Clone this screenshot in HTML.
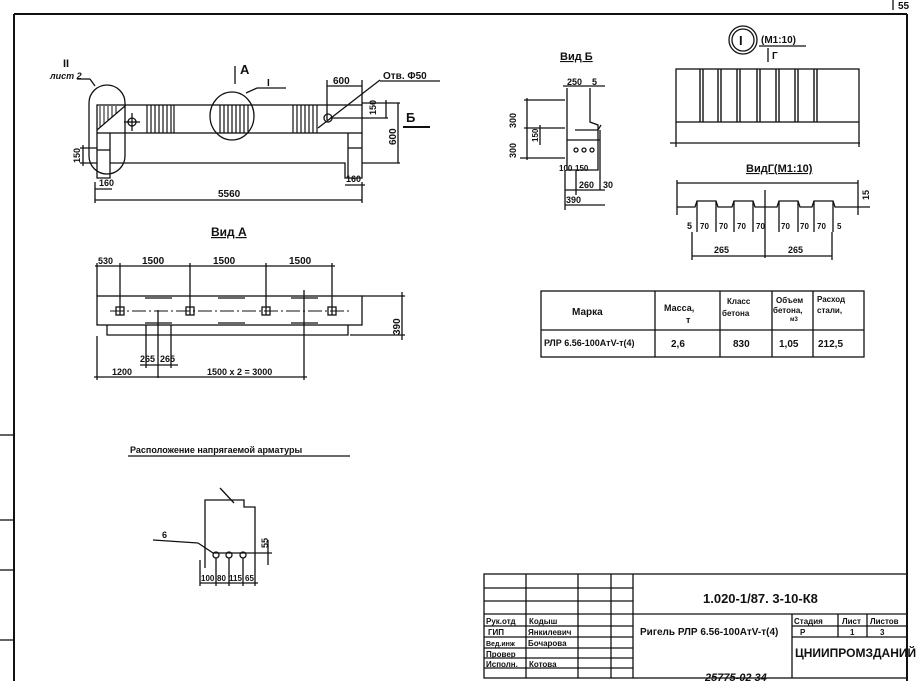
<!DOCTYPE html>
<html><head><meta charset="utf-8"><style>
html,body{margin:0;padding:0;background:#fff;}
svg{display:block}
text{font-family:"Liberation Sans","DejaVu Sans",sans-serif;fill:#111;font-weight:bold}
</style></head><body>
<svg width="917" height="681" viewBox="0 0 917 681" xmlns="http://www.w3.org/2000/svg">
<g stroke="#111" fill="none" stroke-width="1.3">
<!-- frame -->
<line x1="14" y1="14" x2="907" y2="14" stroke-width="2"/>
<line x1="14" y1="14" x2="14" y2="681" stroke-width="2"/>
<line x1="907" y1="14" x2="907" y2="681" stroke-width="2"/>
<line x1="893" y1="0" x2="893" y2="10"/>
<line x1="0" y1="435" x2="14" y2="435"/><line x1="0" y1="520" x2="14" y2="520"/><line x1="0" y1="570" x2="14" y2="570"/><line x1="0" y1="640" x2="14" y2="640"/>
<!-- main beam -->
<rect x="97" y="105" width="265" height="28"/>
<polyline points="97,133 97,178 110,178 110,163 345,163 345,178 362,178 362,133"/>
<line x1="110" y1="133" x2="110" y2="163"/>
<line x1="348" y1="133" x2="348" y2="178"/>
<line x1="97" y1="150" x2="110" y2="150"/><line x1="348" y1="148" x2="362" y2="148"/>
<line x1="97" y1="130" x2="125" y2="106"/>
<g stroke-width="1"><line x1="100" y1="106" x2="100" y2="128"/><line x1="104" y1="106" x2="104" y2="124"/><line x1="108" y1="106" x2="108" y2="120"/><line x1="112" y1="106" x2="112" y2="117"/><line x1="116" y1="106" x2="116" y2="113"/></g>
<g stroke-width="1.2">
<line x1="147" y1="105" x2="147" y2="133"/><line x1="151" y1="105" x2="151" y2="133"/><line x1="155" y1="105" x2="155" y2="133"/><line x1="159" y1="105" x2="159" y2="133"/><line x1="163" y1="105" x2="163" y2="133"/><line x1="167" y1="105" x2="167" y2="133"/><line x1="171" y1="105" x2="171" y2="133"/><line x1="174" y1="105" x2="174" y2="133"/>
<line x1="220" y1="105" x2="220" y2="133"/><line x1="224" y1="105" x2="224" y2="133"/><line x1="228" y1="105" x2="228" y2="133"/><line x1="232" y1="105" x2="232" y2="133"/><line x1="236" y1="105" x2="236" y2="133"/><line x1="240" y1="105" x2="240" y2="133"/><line x1="244" y1="105" x2="244" y2="133"/><line x1="248" y1="105" x2="248" y2="133"/>
<line x1="293" y1="105" x2="293" y2="133"/><line x1="297" y1="105" x2="297" y2="133"/><line x1="301" y1="105" x2="301" y2="133"/><line x1="305" y1="105" x2="305" y2="133"/><line x1="309" y1="105" x2="309" y2="133"/><line x1="313" y1="105" x2="313" y2="133"/><line x1="317" y1="105" x2="317" y2="133"/>
</g>
<ellipse cx="232" cy="116" rx="22" ry="24"/>
<rect x="89" y="85" width="36" height="89" rx="18"/>
<circle cx="132" cy="122" r="4"/><line x1="132" y1="113" x2="132" y2="131"/><line x1="124" y1="122" x2="140" y2="122"/>
<circle cx="328" cy="118" r="4"/>
<line x1="318" y1="128" x2="380" y2="80"/><line x1="380" y1="81" x2="440" y2="81"/>
<line x1="246" y1="93" x2="257" y2="88"/><line x1="257" y1="88" x2="286" y2="88"/>
<line x1="77" y1="79" x2="90" y2="79"/><line x1="90" y1="79" x2="95" y2="86"/>
<line x1="235" y1="66" x2="235" y2="84"/>
<line x1="327" y1="86" x2="362" y2="86"/><line x1="327" y1="80" x2="327" y2="120"/><line x1="362" y1="80" x2="362" y2="105"/>
<line x1="362" y1="103" x2="400" y2="103"/><line x1="398" y1="103" x2="398" y2="163"/><line x1="362" y1="163" x2="400" y2="163"/>
<line x1="386" y1="100" x2="386" y2="118"/><line x1="330" y1="118" x2="388" y2="118"/>
<line x1="403" y1="127" x2="430" y2="127" stroke-width="2"/>
<line x1="95" y1="200" x2="362" y2="200"/><line x1="95" y1="182" x2="95" y2="203"/><line x1="362" y1="182" x2="362" y2="203"/>
<line x1="95" y1="189" x2="112" y2="189"/><line x1="345" y1="185" x2="365" y2="185"/>
<line x1="80" y1="148" x2="97" y2="148"/><line x1="80" y1="163" x2="97" y2="163"/><line x1="83" y1="145" x2="83" y2="166"/>
<!-- Vid A -->
<rect x="97" y="296" width="265" height="29"/>
<polyline points="107,325 107,335 348,335 348,325"/>
<line x1="95" y1="266" x2="335" y2="266"/>
<line x1="120" y1="263" x2="120" y2="315"/><line x1="190" y1="263" x2="190" y2="315"/><line x1="266" y1="263" x2="266" y2="315"/><line x1="332" y1="263" x2="332" y2="315"/>
<line x1="97" y1="263" x2="97" y2="296"/>
<line x1="110" y1="311" x2="350" y2="311" stroke-dasharray="14,3,2,3" stroke-width="1"/>
<rect x="116" y="307" width="8" height="8"/><rect x="186" y="307" width="8" height="8"/><rect x="262" y="307" width="8" height="8"/><rect x="328" y="307" width="8" height="8"/>
<line x1="145" y1="298" x2="172" y2="298"/><line x1="218" y1="298" x2="245" y2="298"/><line x1="291" y1="298" x2="318" y2="298"/>
<line x1="145" y1="323" x2="172" y2="323"/><line x1="218" y1="323" x2="245" y2="323"/><line x1="291" y1="323" x2="318" y2="323"/>
<line x1="362" y1="296" x2="405" y2="296"/><line x1="350" y1="335" x2="405" y2="335"/><line x1="402" y1="292" x2="402" y2="340"/>
<line x1="146" y1="325" x2="146" y2="368"/><line x1="158" y1="310" x2="158" y2="378"/><line x1="171" y1="325" x2="171" y2="368"/>
<line x1="140" y1="365" x2="178" y2="365"/>
<line x1="97" y1="336" x2="97" y2="380"/><line x1="304" y1="290" x2="304" y2="380"/>
<line x1="94" y1="377" x2="307" y2="377"/>
<line x1="128" y1="456" x2="350" y2="456"/>
<!-- bottom sketch -->
<polyline points="205,510 205,500 244,500 244,507 255,507 255,570"/>
<line x1="205" y1="510" x2="205" y2="568"/>
<line x1="220" y1="488" x2="234" y2="503"/>
<line x1="153" y1="540" x2="198" y2="543"/><line x1="198" y1="543" x2="213" y2="553"/><line x1="213" y1="553" x2="255" y2="553"/>
<circle cx="216" cy="555" r="3"/><circle cx="229" cy="555" r="3"/><circle cx="243" cy="555" r="3"/>
<line x1="200" y1="583" x2="258" y2="583"/>
<line x1="200" y1="560" x2="200" y2="586"/><line x1="216" y1="558" x2="216" y2="586"/><line x1="229" y1="558" x2="229" y2="586"/><line x1="243" y1="558" x2="243" y2="586"/><line x1="255" y1="570" x2="255" y2="586"/>
<line x1="268" y1="540" x2="268" y2="565"/><line x1="255" y1="553" x2="272" y2="553"/>
<!-- Vid B -->
<polyline points="567,88 567,170 598,170 598,125 590,122 590,88"/>
<polyline points="575,130 598,130 601,125"/>
<line x1="567" y1="140" x2="600" y2="140"/><line x1="600" y1="130" x2="600" y2="190"/>
<circle cx="576" cy="150" r="2"/><circle cx="584" cy="150" r="2"/><circle cx="592" cy="150" r="2"/>
<line x1="524" y1="100" x2="565" y2="100"/><line x1="524" y1="128" x2="565" y2="128"/><line x1="520" y1="158" x2="565" y2="158"/>
<line x1="527" y1="98" x2="527" y2="160"/><line x1="540" y1="125" x2="540" y2="145"/>
<line x1="563" y1="86" x2="605" y2="86"/>
<line x1="565" y1="190" x2="605" y2="190"/><line x1="565" y1="205" x2="605" y2="205"/>
<line x1="565" y1="170" x2="565" y2="210"/><line x1="576" y1="170" x2="576" y2="195"/>
<!-- detail I -->
<circle cx="743" cy="40" r="14"/><circle cx="743" cy="40" r="11"/>
<line x1="759" y1="46" x2="806" y2="46"/><line x1="768" y1="48" x2="768" y2="62"/>
<rect x="676" y="69" width="183" height="53"/>
<g stroke-width="1.4"><line x1="700" y1="69" x2="700" y2="122"/><line x1="703" y1="69" x2="703" y2="122"/><line x1="718" y1="69" x2="718" y2="122"/><line x1="721" y1="69" x2="721" y2="122"/><line x1="737" y1="69" x2="737" y2="122"/><line x1="740" y1="69" x2="740" y2="122"/><line x1="757" y1="69" x2="757" y2="122"/><line x1="760" y1="69" x2="760" y2="122"/><line x1="776" y1="69" x2="776" y2="122"/><line x1="779" y1="69" x2="779" y2="122"/><line x1="795" y1="69" x2="795" y2="122"/><line x1="798" y1="69" x2="798" y2="122"/><line x1="814" y1="69" x2="814" y2="122"/><line x1="817" y1="69" x2="817" y2="122"/></g>
<line x1="670" y1="143" x2="860" y2="143"/><line x1="676" y1="122" x2="676" y2="147"/><line x1="859" y1="122" x2="859" y2="147"/>
<!-- vid G -->
<line x1="677" y1="183" x2="858" y2="183"/><line x1="677" y1="180" x2="677" y2="215"/><line x1="858" y1="180" x2="858" y2="215"/>
<polyline points="677,207 695,207 697,201 716,201 718,207 732,207 734,201 753,201 755,207 777,207 779,201 798,201 800,207 812,207 814,201 833,201 835,207 858,207 870,207"/>
<line x1="697" y1="201" x2="697" y2="232"/><line x1="716" y1="201" x2="716" y2="232"/><line x1="734" y1="201" x2="734" y2="232"/><line x1="753" y1="201" x2="753" y2="232"/><line x1="779" y1="201" x2="779" y2="232"/><line x1="798" y1="201" x2="798" y2="232"/><line x1="814" y1="201" x2="814" y2="232"/><line x1="833" y1="201" x2="833" y2="232"/>
<line x1="765" y1="190" x2="765" y2="258"/>
<line x1="692" y1="256" x2="832" y2="256"/><line x1="692" y1="232" x2="692" y2="260"/><line x1="832" y1="232" x2="832" y2="260"/>
<!-- table -->
<rect x="541" y="291" width="323" height="66"/>
<line x1="541" y1="330" x2="864" y2="330"/>
<line x1="655" y1="291" x2="655" y2="357"/><line x1="720" y1="291" x2="720" y2="357"/><line x1="772" y1="291" x2="772" y2="357"/><line x1="813" y1="291" x2="813" y2="357"/>
<!-- title block -->
<rect x="484" y="574" width="423" height="104"/>
<line x1="633" y1="574" x2="633" y2="678"/>
<line x1="526" y1="574" x2="526" y2="678"/><line x1="578" y1="574" x2="578" y2="678"/><line x1="611" y1="574" x2="611" y2="678"/>
<line x1="484" y1="588" x2="633" y2="588"/><line x1="484" y1="601" x2="633" y2="601"/>
<line x1="484" y1="614" x2="907" y2="614"/>
<line x1="484" y1="626" x2="633" y2="626"/><line x1="484" y1="637" x2="633" y2="637"/><line x1="484" y1="648" x2="633" y2="648"/><line x1="484" y1="658" x2="633" y2="658"/><line x1="484" y1="668" x2="633" y2="668"/>
<line x1="792" y1="614" x2="792" y2="678"/><line x1="838" y1="614" x2="838" y2="637"/><line x1="867" y1="614" x2="867" y2="637"/>
<line x1="792" y1="626" x2="907" y2="626"/><line x1="792" y1="637" x2="907" y2="637"/>
</g>
<g font-size="10">
<text x="63" y="67" font-size="11">II</text><text x="50" y="79" font-size="9" font-style="italic">лист 2</text>
<text x="240" y="74" font-size="13">А</text>
<text x="267" y="86">I</text>
<text x="333" y="84">600</text><text x="383" y="79">Отв. Φ50</text>
<text x="406" y="122" font-size="13">Б</text>
<text transform="translate(376,115) rotate(-90)" font-size="9">150</text>
<text transform="translate(396,145) rotate(-90)" font-size="10">600</text>
<text transform="translate(80,163) rotate(-90)" font-size="9">150</text>
<text x="99" y="186" font-size="9">160</text><text x="346" y="182" font-size="9">160</text>
<text x="218" y="197">5560</text>
<text x="211" y="236" font-size="12" text-decoration="underline">Вид А</text>
<text x="98" y="264" font-size="9">530</text><text x="142" y="264">1500</text><text x="213" y="264">1500</text><text x="289" y="264">1500</text>
<text transform="translate(400,335) rotate(-90)" font-size="10">390</text>
<text x="140" y="362" font-size="9">265</text><text x="160" y="362" font-size="9">265</text>
<text x="112" y="375" font-size="9">1200</text><text x="207" y="375" font-size="9">1500 x 2 = 3000</text>
<text x="130" y="453" font-size="9">Расположение напрягаемой арматуры</text>
<text x="162" y="538" font-size="9">6</text>
<text transform="translate(268,548) rotate(-90)" font-size="9">55</text>
<text x="201" y="581" font-size="8">100</text><text x="217" y="581" font-size="8">80</text><text x="229" y="581" font-size="8">115</text><text x="245" y="581" font-size="8">65</text>
<text x="560" y="60" font-size="11" text-decoration="underline">Вид Б</text>
<text x="567" y="85" font-size="9">250</text><text x="592" y="85" font-size="9">5</text>
<text transform="translate(516,128) rotate(-90)" font-size="9">300</text>
<text transform="translate(516,158) rotate(-90)" font-size="9">300</text>
<text transform="translate(538,142) rotate(-90)" font-size="8">150</text>
<text x="559" y="171" font-size="8">100</text><text x="575" y="171" font-size="8">150</text>
<text x="579" y="188" font-size="9">260</text><text x="603" y="188" font-size="9">30</text>
<text x="566" y="203" font-size="9">390</text>
<text x="739" y="45" font-size="13">I</text>
<text x="761" y="43" font-size="10">(М1:10)</text>
<text x="772" y="59" font-size="10">Г</text>
<text x="746" y="172" font-size="11" text-decoration="underline">ВидГ(М1:10)</text>
<text transform="translate(869,200) rotate(-90)" font-size="9">15</text>
<text x="687" y="229" font-size="9">5</text>
<text x="700" y="229" font-size="8">70</text><text x="719" y="229" font-size="8">70</text><text x="737" y="229" font-size="8">70</text><text x="756" y="229" font-size="8">70</text><text x="781" y="229" font-size="8">70</text><text x="800" y="229" font-size="8">70</text><text x="817" y="229" font-size="8">70</text><text x="837" y="229" font-size="8">5</text>
<text x="714" y="253" font-size="9">265</text><text x="788" y="253" font-size="9">265</text>
<text x="572" y="315" font-size="10">Марка</text>
<text x="664" y="311" font-size="9">Масса,</text><text x="686" y="323" font-size="9">т</text>
<text x="727" y="304" font-size="8">Класс</text><text x="722" y="316" font-size="8">бетона</text>
<text x="776" y="303" font-size="8">Объем</text><text x="773" y="313" font-size="8">бетона,</text><text x="790" y="321" font-size="6">м3</text>
<text x="817" y="302" font-size="8">Расход</text><text x="817" y="313" font-size="8">стали,</text>
<text x="544" y="346" font-size="9">РЛР 6.56-100АтV-т(4)</text>
<text x="671" y="347" font-size="10">2,6</text><text x="733" y="347" font-size="10">830</text><text x="779" y="347" font-size="10">1,05</text><text x="818" y="347" font-size="10">212,5</text>
<text x="703" y="603" font-size="13">1.020-1/87. 3-10-К8</text>
<text x="486" y="624" font-size="8">Рук.отд</text><text x="529" y="624" font-size="8">Кодыш</text>
<text x="488" y="635" font-size="8">ГИП</text><text x="528" y="635" font-size="8">Янкилевич</text>
<text x="486" y="646" font-size="7">Вед.инж</text><text x="528" y="646" font-size="8">Бочарова</text>
<text x="486" y="657" font-size="8">Провер</text>
<text x="486" y="667" font-size="8">Исполн.</text><text x="529" y="667" font-size="8">Котова</text>
<text x="640" y="635" font-size="10">Ригель РЛР 6.56-100АтV-т(4)</text>
<text x="794" y="624" font-size="8">Стадия</text><text x="842" y="624" font-size="8">Лист</text><text x="870" y="624" font-size="8">Листов</text>
<text x="800" y="635" font-size="8">Р</text><text x="850" y="635" font-size="8">1</text><text x="880" y="635" font-size="8">3</text>
<text x="795" y="657" font-size="12">ЦНИИПРОМЗДАНИЙ</text>
<text x="705" y="681" font-size="11" font-style="italic">25775-02   34</text>
<text x="898" y="9" font-size="10">55</text>
</g>
</svg>
</body></html>
